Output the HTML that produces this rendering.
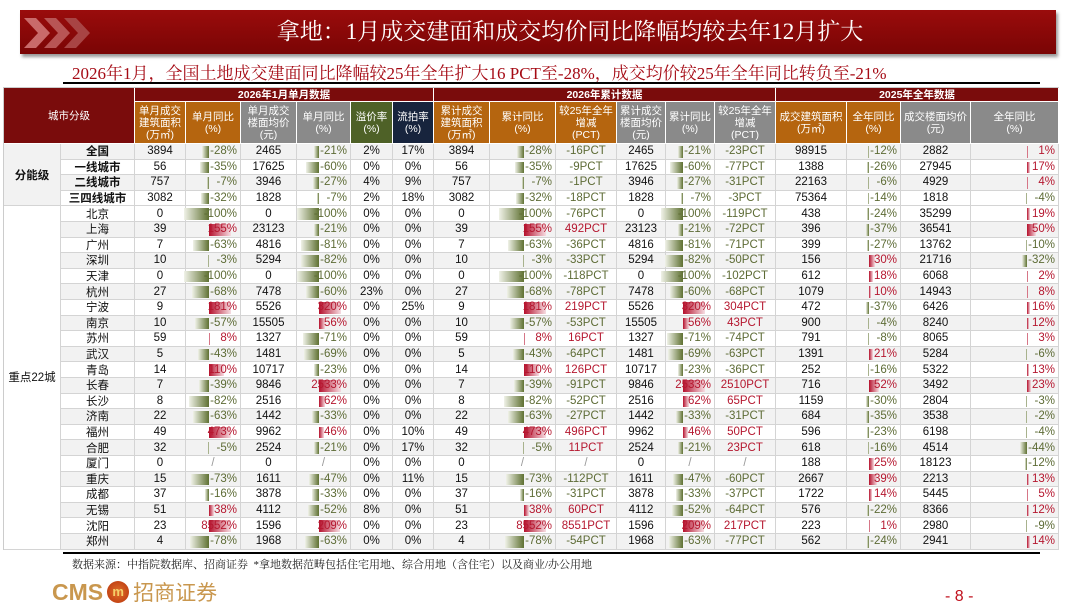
<!DOCTYPE html>
<html><head><meta charset="utf-8">
<style>
body{margin:0;width:1080px;height:608px;background:#fff;position:relative;overflow:hidden;font-family:"Liberation Sans","Noto Sans CJK SC",sans-serif}
.abs{position:absolute;box-sizing:border-box}
.hd{color:#fff;font-size:10.5px;line-height:12px;display:flex;align-items:center;justify-content:center;text-align:center;border-right:1px solid #fff;border-bottom:1px solid #fff}
.cell{font-size:11.5px;color:#111;display:flex;align-items:center;justify-content:center;border-right:1px solid #d4d4d4;border-bottom:1px solid #d4d4d4;white-space:nowrap}
.num{justify-content:flex-end;padding-right:3px}
</style></head><body>
<div class="abs" style="left:20px;top:10px;width:1036px;height:44px;background:linear-gradient(#9a0c0c,#7a0505);box-shadow:2px 3px 3px #999"></div>
<svg class="abs" style="left:22px;top:14px" width="80" height="38">
<path d="M2 4 L14 4 L28 19 L14 34 L2 34 L16 19Z" fill="#c96a6a"/>
<path d="M22 4 L34 4 L48 19 L34 34 L22 34 L36 19Z" fill="#b85555"/>
<path d="M42 4 L54 4 L68 19 L54 34 L42 34 L56 19Z" fill="#a84444"/></svg>
<div class="abs" style="left:100px;top:10px;width:940px;height:44px;line-height:44px;text-align:center;color:#fff;font-size:23px;font-family:'Liberation Serif','Noto Serif CJK SC',serif">拿地：1月成交建面和成交均价同比降幅均较去年12月扩大</div>
<div class="abs" style="left:72px;top:59px;width:830px;white-space:nowrap;color:#a50a14;font-size:17px;font-family:'Liberation Serif','Noto Serif CJK SC',serif">2026年1月，全国土地成交建面同比降幅较25年全年扩大16 PCT至-28%，成交均价较25年全年同比转负至-21%</div>
<div class="abs" style="left:63px;top:82px;width:977px;height:2px;background:#000"></div>
<div id="tbl" class="abs" style="left:3px;top:87px;width:1056px;height:463px;border:1px solid #ccc"></div>
<div class="abs" style="left:63px;top:552px;width:977px;height:2px;background:#000"></div>
<div class="abs" style="left:72px;top:556px;font-size:11px;color:#222;font-family:'Liberation Serif','Noto Serif CJK SC',serif">数据来源：中指院数据库、招商证券 &nbsp;*拿地数据范畴包括住宅用地、综合用地（含住宅）以及商业/办公用地</div>
<div class="abs" style="left:52px;top:578px;height:28px;display:flex;align-items:center;color:#c9974e;font-size:23px;font-weight:bold">CMS<span style="display:inline-block;width:22px;height:22px;border-radius:50%;background:radial-gradient(#e0702a,#b8320c);margin:0 4px;color:#f5d06a;font-size:13px;text-align:center;line-height:22px">m</span><span style="font-weight:normal;font-family:'Noto Sans CJK SC',sans-serif;font-size:21px">招商证券</span></div>
<div class="abs" style="left:945px;top:588px;color:#c0101c;font-size:16px">- 8 -</div>
<script>
const rowNames=["全国","一线城市","二线城市","三四线城市","北京","上海","广州","深圳","天津","杭州","宁波","南京","苏州","武汉","青岛","长春","长沙","济南","福州","合肥","厦门","重庆","成都","无锡","沈阳","郑州"];
const rowData=[
[3894,-28,2465,-21,2,17,3894,-28,-16,2465,-21,-23,98915,-12,2882,1],
[56,-35,17625,-60,0,0,56,-35,-9,17625,-60,-77,1388,-26,27945,17],
[757,-7,3946,-27,4,9,757,-7,-1,3946,-27,-31,22163,-6,4929,4],
[3082,-32,1828,-7,2,18,3082,-32,-18,1828,-7,-3,75364,-14,1818,-4],
[0,-100,0,-100,0,0,0,-100,-76,0,-100,-119,438,-24,35299,19],
[39,155,23123,-21,0,0,39,155,492,23123,-21,-72,396,-37,36541,50],
[7,-63,4816,-81,0,0,7,-63,-36,4816,-81,-71,399,-27,13762,-10],
[10,-3,5294,-82,0,0,10,-3,-33,5294,-82,-50,156,30,21716,-32],
[0,-100,0,-100,0,0,0,-100,-118,0,-100,-102,612,18,6068,2],
[27,-68,7478,-60,23,0,27,-68,-78,7478,-60,-68,1079,10,14943,8],
[9,181,5526,320,0,25,9,181,219,5526,320,304,472,-37,6426,16],
[10,-57,15505,56,0,0,10,-57,-53,15505,56,43,900,-4,8240,12],
[59,8,1327,-71,0,0,59,8,16,1327,-71,-74,791,-8,8065,3],
[5,-43,1481,-69,0,0,5,-43,-64,1481,-69,-63,1391,21,5284,-6],
[14,110,10717,-23,0,0,14,110,126,10717,-23,-36,252,-16,5322,13],
[7,-39,9846,2533,0,0,7,-39,-91,9846,2533,2510,716,52,3492,23],
[8,-82,2516,62,0,0,8,-82,-52,2516,62,65,1159,-30,2804,-3],
[22,-63,1442,-33,0,0,22,-63,-27,1442,-33,-31,684,-35,3538,-2],
[49,473,9962,46,0,10,49,473,496,9962,46,50,596,-23,6198,-4],
[32,-5,2524,-21,0,17,32,-5,11,2524,-21,23,618,-16,4514,-44],
[0,null,0,null,0,0,0,null,null,0,null,null,188,25,18123,-12],
[15,-73,1611,-47,0,11,15,-73,-112,1611,-47,-60,2667,39,2213,13],
[37,-16,3878,-33,0,0,37,-16,-31,3878,-33,-37,1722,14,5445,5],
[51,38,4112,-52,8,0,51,38,60,4112,-52,-64,576,-22,8366,12],
[23,8552,1596,209,0,0,23,8552,8551,1596,209,217,223,1,2980,-9],
[4,-78,1968,-63,0,0,4,-78,-54,1968,-63,-77,562,-24,2941,14]];
const colHeaders=["单月成交<br>建筑面积<br>(万㎡)","单月同比<br>(%)","单月成交<br>楼面均价<br>(元)","单月同比<br>(%)","溢价率<br>(%)","流拍率<br>(%)","累计成交<br>建筑面积<br>(万㎡)","累计同比<br>(%)","较25年全年<br>增减<br>(PCT)","累计成交<br>楼面均价<br>(元)","累计同比<br>(%)","较25年全年<br>增减<br>(PCT)","成交建筑面积<br>(万㎡)","全年同比<br>(%)","成交楼面均价<br>(元)","全年同比<br>(%)"];
const groupHeaders=["2026年1月单月数据","2026年累计数据","2025年全年数据"];
const O='#b5650f',G='#8a8a8a',GR='#4e6127',NV='#17243d';
const hdColors=[O,O,G,G,GR,NV,O,O,O,G,G,G,O,O,G,G];
const xs=[131,182,237,293,347,389,430,486,552,613,662,711,772,843,897,967,1055];
const kinds=['n','b','n','b','p','p','n','b','t','n','b','t','n','b','n','b'];
const negScale=[0,25,0,22,0,0,0,25,0,0,22,0,0,9,0,15];
const posScale=[0,14,0,10,0,0,0,14,0,0,10,0,0,20,0,18];
const T=document.getElementById('tbl');
const Y0=56,RH=15.6;
function add(cls,l,t,w,h,html,style,name){const d=document.createElement('div');d.className='abs '+cls;d.style.cssText=`left:${l}px;top:${t}px;width:${w}px;height:${h}px;`+(style||'');d.innerHTML=html;


T.appendChild(d);return d;}
add('hd',0,0,131,Y0,'城市分级','background:#7a0c0c;font-size:10.5px','header-city-tier');
[[0,6],[6,12],[12,16]].forEach((g,i)=>add('hd',xs[g[0]],0,xs[g[1]]-xs[g[0]],14,groupHeaders[i],'background:#7a0c0c;font-weight:bold','group-header'));
colHeaders.forEach((h,i)=>add('hd',xs[i],14,xs[i+1]-xs[i],Y0-14,h,'background:'+hdColors[i],'column-header'));
add('cell',0,Y0,57,RH*4,'<b>分能级</b>','background:#f2f2f2','group-tier');
add('cell',0,Y0+RH*4,57,RH*22,'重点22城','background:#fff','group-22-cities');
rowNames.forEach((n,r)=>{
 const y=Y0+r*RH;
 const rb=(r<4?(r%2?'#fff':'#f2f2f2'):((r-4)%2?'#f2f2f2':'#fff'));
 add('cell',57,y,74,RH,r<4?'<b>'+n+'</b>':n,'background:'+rb,'row-label');
 rowData[r].forEach((v,c)=>{
  const w=xs[c+1]-xs[c];
  let html,st='background:'+rb+';',cls='cell';
  if(v===null){html='<span style="color:#999">/</span>';}
  else if(kinds[c]==='n'){html=String(v);}
  else if(kinds[c]==='p'){html=v+'%';}
  else if(kinds[c]==='t'){html=v+'PCT';st+='color:'+(v>0?'#b5172f':'#5d6b35');}
  else {cls+=' num';st+='color:'+(v>0?'#b5172f':'#5d6b35');
   const ax=w-32;let bar;
   if(v<0){const bw=Math.max(1,Math.min(-v,100)/100*negScale[c]);bar=`<div style="position:absolute;left:${ax-bw}px;top:2px;width:${bw}px;height:${RH-4}px;background:linear-gradient(90deg,#f0f2e8,#5f7132)"></div>`;}
   else {const bw=Math.max(1,Math.min(v/100*posScale[c],22));bar=`<div style="position:absolute;left:${ax}px;top:2px;width:${bw}px;height:${RH-4}px;background:linear-gradient(90deg,#b5102c,#f6dde2)"></div>`;}
   html=bar+'<span style="position:relative">'+v+'%</span>';}
  add(cls,xs[c],y,w,RH,html,st,'cell-'+(c+1));
 });
});
</script>
</body></html>
